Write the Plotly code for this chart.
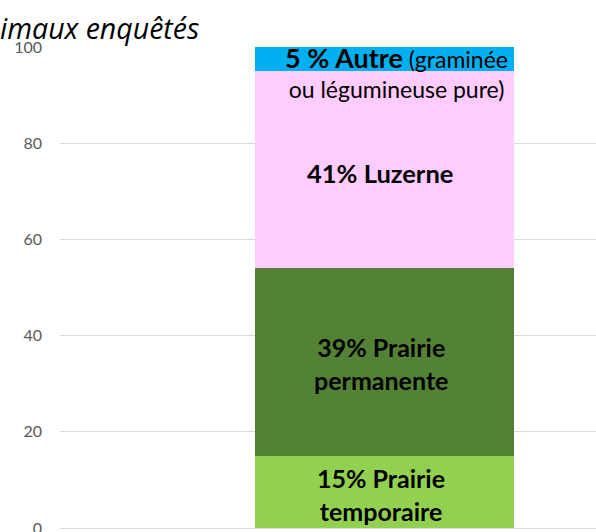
import plotly.graph_objects as go

# ---- data ----
category = ["Animaux enquêtés"]
segments = ["Prairie temporaire", "Prairie permanente", "Luzerne", "Autre"]
values = [15, 39, 41, 5]
labels = [
    "<b>15% Prairie<br>temporaire</b>",
    "<b>39% Prairie<br>permanente</b>",
    "<b>41% Luzerne</b>",
    "<span style='font-size:27px'><b>5 % Autre</b></span> (graminée<br>ou légumineuse pure)",
]
colors = ["#92D050", "#548235", "#FFCCFF", "#00B0F0"]
y_ticks = [0, 20, 40, 60, 80, 100]
title_text = "imaux enquêtés"

FONT = "Lato"

fig = go.Figure()
for name, v, c in zip(segments, values, colors):
    fig.add_trace(go.Bar(
        x=category, y=[v], name=name, width=1,
        marker=dict(color=c, line=dict(width=0)),
        showlegend=False,
    ))

# labels: centered in each segment (last one straddles the boundary below it)
cum = 0
shifts = [-3, -1, -3, -1]
sizes = [25, 25, 25.5, 23]
xshifts = [-3, -3, -4, 12]
for i, (v, lab) in enumerate(zip(values, labels)):
    yc = cum if i == len(values) - 1 else cum + v / 2
    fig.add_annotation(
        x=0, y=yc, xref="x", yref="y", text=lab, showarrow=False,
        xanchor="center", yanchor="middle", yshift=shifts[i], xshift=xshifts[i],
        align="center",
        font=dict(family=FONT, size=sizes[i], color="#000000"),
    )
    cum += v

fig.update_layout(
    barmode="stack",
    width=596, height=532,
    margin=dict(l=60, r=0, t=47, b=4, autoexpand=False),
    paper_bgcolor="white", plot_bgcolor="white",
    title=dict(
        text="<i>" + title_text + "</i>",
        xref="container", yref="container",
        x=0.0, xanchor="left", y=1 - 39 / 532, yanchor="bottom",
        font=dict(family="Open Sans", size=28.5, color="#000000"),
    ),
    font=dict(family=FONT),
)
fig.update_xaxes(
    type="category", range=[-1.253, 0.817], automargin=False,
    showticklabels=False, showgrid=False, zeroline=False, showline=False, ticks="",
)
fig.update_yaxes(
    range=[0, 100], tickvals=y_ticks, automargin=False,
    showgrid=True, gridcolor="#D9D9D9", gridwidth=1,
    zeroline=True, zerolinecolor="#D9D9D9", zerolinewidth=1,
    showline=False, ticks="",
    tickfont=dict(family=FONT, size=16, color="#595959"),
    ticklabelstandoff=17, ticklabeloverflow="allow",
)

fig.write_html("out.html", config={"displayModeBar": False},
               post_script="document.body.style.margin='0';")
